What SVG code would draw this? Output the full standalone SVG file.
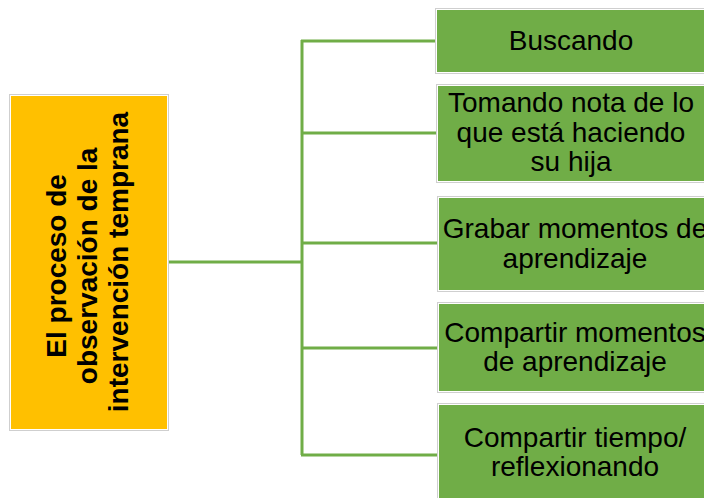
<svg xmlns="http://www.w3.org/2000/svg" width="704" height="498" viewBox="0 0 704 498">
<style>
.frame{fill:#ffffff;stroke:#cfcfcf;stroke-width:1}
.g{fill:#70AD47}
.y{fill:#FFC000}
.t{font-family:"Liberation Sans",Arial,sans-serif;font-size:28px;fill:#000;text-anchor:middle}
.tb{font-family:"Liberation Sans",Arial,sans-serif;font-size:28px;font-weight:bold;fill:#000;text-anchor:middle}
.c{fill:none;stroke:#70AD47;stroke-width:3}
</style>
<rect width="704" height="498" fill="#ffffff"/>
<g id="connectors">
<line class="c" x1="167" y1="262" x2="302" y2="262"/>
<line class="c" x1="302" y1="40" x2="302" y2="455"/>
<line class="c" x1="301" y1="41" x2="437" y2="41"/>
<line class="c" x1="301" y1="133" x2="437" y2="133"/>
<line class="c" x1="301" y1="243" x2="437" y2="243"/>
<line class="c" x1="301" y1="348" x2="437" y2="348"/>
<line class="c" x1="301" y1="455" x2="437" y2="455"/>
</g>
<g id="root">
<rect class="frame" x="9.5" y="94.5" width="159" height="336"/>
<rect class="y" x="11" y="96" width="156" height="333"/>
<text class="tb" transform="translate(88,262) rotate(-90)">
<tspan x="0" y="-22">El proceso de</tspan>
<tspan x="0" y="9">observación de la</tspan>
<tspan x="0" y="40">intervención temprana</tspan>
</text>
</g>
<g id="n1">
<rect class="frame" x="435.5" y="8.5" width="280" height="65"/>
<rect class="g" x="437" y="10" width="280" height="62"/>
<text class="t" x="571" y="50">Buscando</text>
</g>
<g id="n2">
<rect class="frame" x="436.5" y="84.5" width="280" height="98"/>
<rect class="g" x="438" y="86" width="280" height="95"/>
<text class="t" x="571"><tspan x="571" y="112">Tomando nota de lo</tspan><tspan x="571" y="142">que está haciendo</tspan><tspan x="571" y="171">su hija</tspan></text>
</g>
<g id="n3">
<rect class="frame" x="437.5" y="196.5" width="280" height="95"/>
<rect class="g" x="439" y="198" width="280" height="92"/>
<text class="t" x="575"><tspan x="575" y="238">Grabar momentos de</tspan><tspan x="575" y="268">aprendizaje</tspan></text>
</g>
<g id="n4">
<rect class="frame" x="437.5" y="302.5" width="280" height="90"/>
<rect class="g" x="439" y="304" width="280" height="87"/>
<text class="t" x="575"><tspan x="575" y="342">Compartir momentos</tspan><tspan x="575" y="371">de aprendizaje</tspan></text>
</g>
<g id="n5">
<rect class="frame" x="437.5" y="403.5" width="280" height="100"/>
<rect class="g" x="439" y="405" width="280" height="100"/>
<text class="t" x="575"><tspan x="575" y="447">Compartir tiempo/</tspan><tspan x="575" y="476">reflexionando</tspan></text>
</g>
</svg>
